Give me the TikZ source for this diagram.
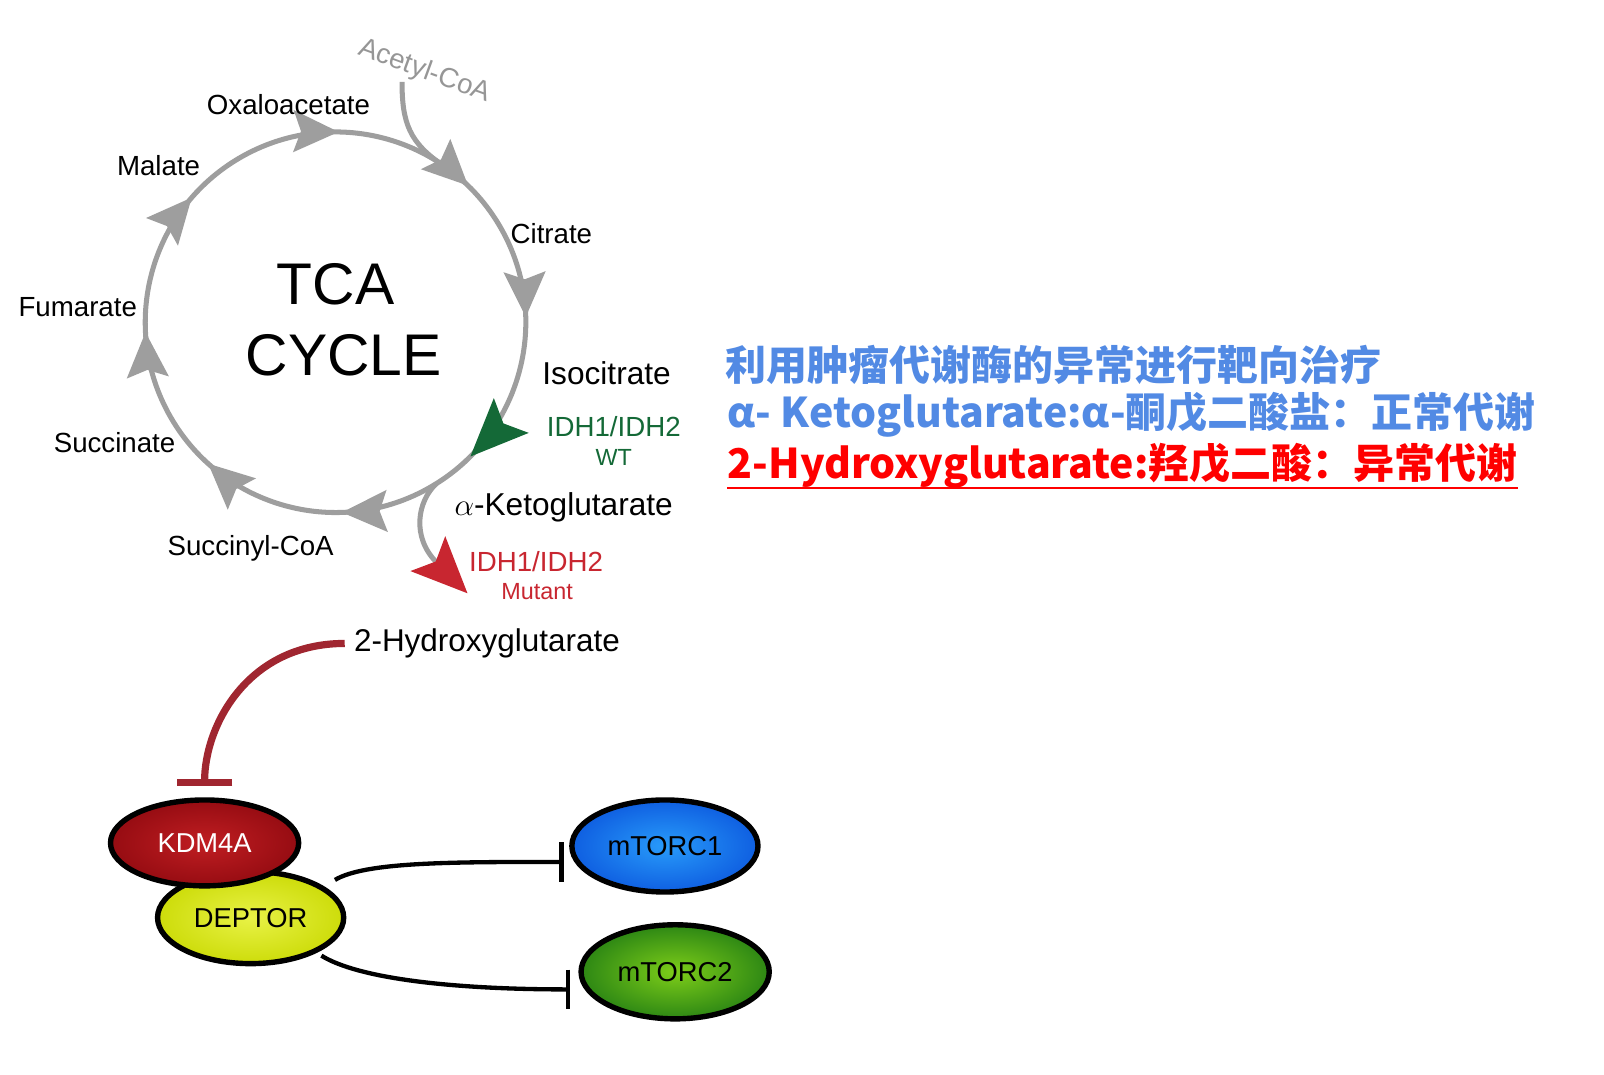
\documentclass[tikz,border=0pt]{standalone}
\usepackage{fontspec}
\setmainfont{Liberation Sans}
\newfontfamily\cjkfont{Noto Sans CJK SC}
\usepackage{tikz}
\usetikzlibrary{
  arrows.meta,
  calc,
  decorations.markings,
  shapes.geometric
}
\definecolor{ringgray}{RGB}{158,158,158}
\definecolor{acgray}{RGB}{150,150,150}
\definecolor{wtgreen}{RGB}{20,105,55}
\definecolor{mutred}{RGB}{200,38,48}
\definecolor{inhred}{RGB}{160,38,48}
\definecolor{titleblue}{RGB}{82,138,228}
\definecolor{titlered}{RGB}{255,0,0}
\definecolor{kdmout}{RGB}{150,12,18}
\definecolor{kdmin}{RGB}{192,30,34}
\definecolor{depout}{RGB}{205,220,10}
\definecolor{depin}{RGB}{232,242,70}
\definecolor{mtAout}{RGB}{15,95,225}
\definecolor{mtAin}{RGB}{40,155,250}
\definecolor{mtBout}{RGB}{45,135,20}
\definecolor{mtBin}{RGB}{125,205,25}
\tikzset{
  % Sikl chizig'i va uchlari
  ring/.style     = {line width=2.8pt, draw=ringgray},
  gtip/.tip       = {Stealth[length=25pt, width=23pt, inset=4pt]},
  wttip/.tip      = {Stealth[length=32pt, width=27pt, inset=6pt, color=wtgreen]},
  mutip/.tip      = {Stealth[length=31pt, width=27pt, inset=6pt, color=mutred]},
  % Yozuvlar
  lab/.style      = {font=\fontsize{15.4}{18}\selectfont, inner sep=0pt},
  midlab/.style   = {font=\fontsize{17.6}{20}\selectfont, inner sep=0pt},
  smalllab/.style = {font=\fontsize{13}{15}\selectfont, inner sep=0pt},
  biglab/.style   = {font=\fontsize{32.7}{38}\selectfont, inner sep=0pt},
  cjklab/.style   = {font=\cjkfont\bfseries\fontsize{22.8}{27}\selectfont,
                     inner sep=0pt, anchor=west},
  % Oqsillar
  prot/.style     = {ellipse, draw=black, line width=3pt, inner sep=0pt,
                     font=\fontsize{15.2}{18}\selectfont},
  % Tormozlash chiziqlari
  inhib/.style    = {line width=4pt, draw=inhred, -{Bar[width=31pt]}},
  supline/.style  = {line width=2.4pt, draw=black, -{Bar[width=22pt]}},
}
\begin{document}
\begin{tikzpicture}[x=0.02cm, y=-0.02cm]
  \useasboundingbox (0,0) rectangle (1568,1050);
  \coordinate (cc) at (328,315);
  \coordinate (acin) at (393,80);
  % TCA halqasi
  \draw[ring, postaction={decorate}, decoration={markings,
      mark=at position 0.079 with {\arrow{gtip}},
      mark=at position 0.208 with {\arrow{wttip}},
      mark=at position 0.328 with {\arrow{gtip}},
      mark=at position 0.450 with {\arrow{gtip}},
      mark=at position 0.575 with {\arrow{gtip}},
      mark=at position 0.697 with {\arrow{gtip}},
      mark=at position 0.836 with {\arrow{gtip}},
      mark=at position 0.956 with {\arrow{gtip}}}]
    (cc) ++(-30:186) arc[start angle=-30, end angle=330, radius=186];
  \coordinate (acend) at ($(cc)+(-55:186)$);
  \coordinate (kgout) at ($(cc)+(58:186)$);
  % Tarmoqlar
  \draw[ring] (acin) .. controls (393,120) and (400,140) .. (acend);
  \draw[ring, -{mutip}] (kgout) .. controls (408,490) and (402,525) .. (457,580);
  % Metabolitlar
  \node[lab] (oaa) at (282,102) {Oxaloacetate};
  \node[lab] (mal) at (155,162) {Malate};
  \node[lab] (cit) at (539,228) {Citrate};
  \node[lab] (fum) at (76,300) {Fumarate};
  \node[midlab] (iso) at (593,365) {Isocitrate};
  \node[lab] (suc) at (112,433) {Succinate};
  \node[midlab] (akg) at (551,496) {$\alpha$-Ketoglutarate};
  \node[lab] (sca) at (245,536) {Succinyl-CoA};
  \node[lab, acgray, rotate=-20] (acoa) at (415,70) {Acetyl-CoA};
  \node[biglab] (tca) at (328,278) {TCA};
  \node[biglab] (cyc) at (336,347) {CYCLE};
  % Fermentlar
  \node[lab, wtgreen] (wtA) at (600,417) {IDH1/IDH2};
  \node[smalllab, wtgreen] (wtB) at (600,447) {WT};
  \node[lab, mutred] (muA) at (524,549) {IDH1/IDH2};
  \node[smalllab, mutred] (muB) at (525,578) {Mutant};
  % Pastki qism
  \node[lab, font=\fontsize{17.5}{20}\selectfont, inner sep=5pt] (hg) at (476,629) {2-Hydroxyglutarate};
  \node[prot, minimum width=3.64cm, minimum height=1.8cm,
        inner color=depin, outer color=depout] (dep) at (245,897) {DEPTOR};
  \node[prot, minimum width=3.68cm, minimum height=1.68cm,
        inner color=kdmin, outer color=kdmout, text=white] (kdm) at (200,824) {KDM4A};
  \node[prot, minimum width=3.64cm, minimum height=1.8cm,
        inner color=mtAin, outer color=mtAout] (mt1) at (650,827) {mTORC1};
  \node[prot, minimum width=3.68cm, minimum height=1.84cm,
        inner color=mtBin, outer color=mtBout] (mt2) at (660,950) {mTORC2};
  \draw[inhib, shorten >=6pt] (hg.west) .. controls +(-95,0) and +(0,-70) .. (kdm.north);
  \draw[supline, shorten <=7pt, shorten >=6pt] (dep.23) .. controls +(40,-24) and +(-120,0) .. (mt1.190);
  \draw[supline, shorten <=3pt, shorten >=8pt] (dep.-28) .. controls +(40,25) and +(-130,0) .. (mt2.191);
  % O'ng tomondagi matn
  \node[cjklab, titleblue] (tA) at (709,357) {利用肿瘤代谢酶的异常进行靶向治疗};
  \node[cjklab, titleblue] (tB) at (711,405) {α- Ketoglutarate:α-酮戊二酸盐：正常代谢};
  \node[cjklab, titlered] (tC) at (711,455) {2-Hydroxyglutarate:羟戊二酸：异常代谢};
  \draw[titlered, line width=1.5pt] ([yshift=-5.5pt]tC.base west) -- ([yshift=-5.5pt]tC.base east);
\end{tikzpicture}
\end{document}
